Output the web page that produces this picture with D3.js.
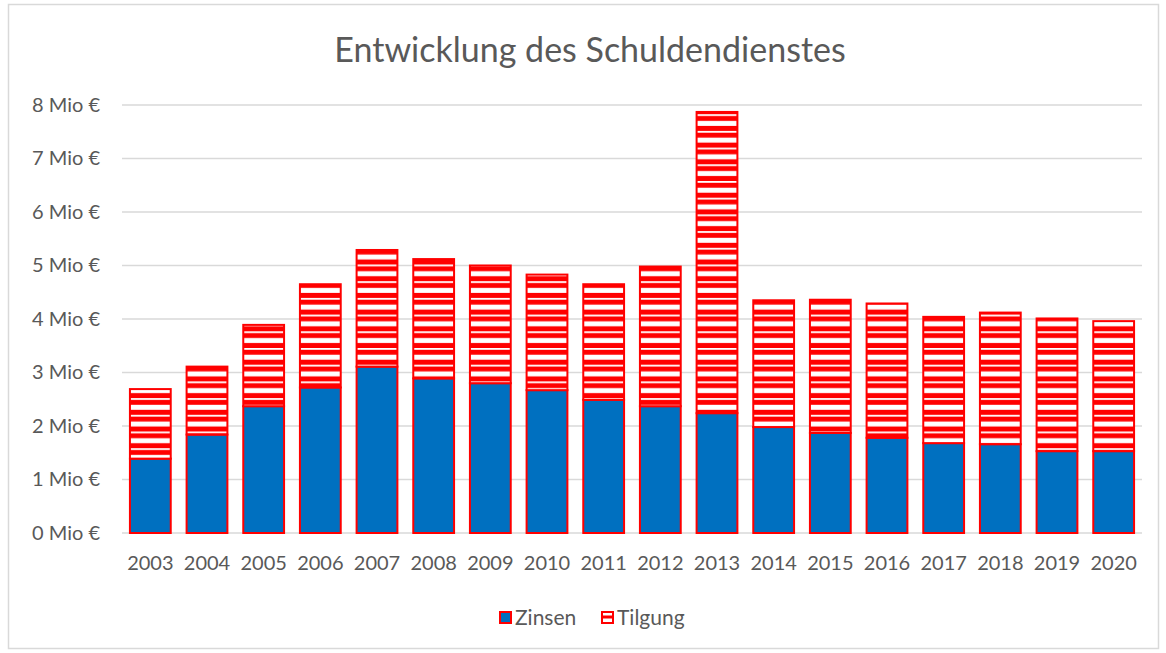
<!DOCTYPE html>
<html>
<head>
<meta charset="utf-8">
<script src="https://cdn.jsdelivr.net/npm/d3@7"></script>
<style>
    body { margin: 0; background: #fff; }
    text { font-family: Lato, "Noto Sans", sans-serif; fill: #595959; }
</style>
</head>
<body>
<div id="Graph"></div>
<script>
var years = ["2003", "2004", "2005", "2006", "2007", "2008", "2009", "2010", "2011",
    "2012", "2013", "2014", "2015", "2016", "2017", "2018", "2019", "2020"];
// values in Mio €
var zinsen = [1.39, 1.84, 2.37, 2.72, 3.11, 2.89, 2.80, 2.67, 2.49, 2.37, 2.24, 1.98, 1.87, 1.78, 1.68, 1.66, 1.53, 1.53];
var tilgung = [1.30, 1.27, 1.52, 1.93, 2.18, 2.23, 2.20, 2.16, 2.16, 2.61, 5.63, 2.37, 2.49, 2.51, 2.36, 2.46, 2.48, 2.43];
var yTicks = [0, 1, 2, 3, 4, 5, 6, 7, 8];
var seriesNames = ["Zinsen", "Tilgung"];

function render() {
    var width = 1166, height = 653;
    var margin = {top: 105, right: 24, bottom: 120, left: 122};
    var plotWidth = width - margin.left - margin.right,
        plotHeight = height - margin.top - margin.bottom;

    var svg = d3.select("#Graph").append("svg")
        .attr("id", "svgElement")
        .attr("width", width)
        .attr("height", height);

    //striped fill like the excel pattern
    var defs = svg.append("defs");
    var pattern = defs.append("pattern")
        .attr("id", "stripes")
        .attr("patternUnits", "userSpaceOnUse")
        .attr("x", 0)
        .attr("y", 393.3)
        .attr("width", 10)
        .attr("height", 16.7);
    pattern.append("rect").attr("width", 10).attr("height", 16.7).attr("fill", "#ff0000");
    pattern.append("rect").attr("y", 0).attr("width", 10).attr("height", 1.8).attr("fill", "#ffffff");
    pattern.append("rect").attr("y", 6.7).attr("width", 10).attr("height", 5).attr("fill", "#ffffff");

    //chart border
    svg.append("rect")
        .attr("x", 8.5).attr("y", 4.5)
        .attr("width", 1150).attr("height", 644)
        .attr("fill", "none")
        .attr("stroke", "#d9d9d9")
        .attr("stroke-width", 1.5);

    //title
    svg.append("text")
        .attr("x", 590)
        .attr("y", 62)
        .style("text-anchor", "middle")
        .style("font-size", "34px")
        .text("Entwicklung des Schuldendienstes");

    var g = svg.append("g")
        .attr("transform", "translate(" + margin.left + "," + margin.top + ")");

    var x = d3.scaleBand()
        .domain(years)
        .range([0, plotWidth])
        .paddingInner(0.28)
        .paddingOuter(0.14);
    var y = d3.scaleLinear()
        .domain([0, 8])
        .range([plotHeight, 0]);

    //gridlines
    g.append("g")
        .selectAll("line")
        .data(yTicks)
        .enter().append("line")
        .attr("x1", 0)
        .attr("x2", plotWidth)
        .attr("y1", function (d) { return y(d); })
        .attr("y2", function (d) { return y(d); })
        .attr("stroke", "#d9d9d9")
        .attr("stroke-width", 1.5);

    //y axis labels
    var yAxis = g.append("g")
        .call(d3.axisLeft(y).tickValues(yTicks).tickSize(0).tickPadding(22)
            .tickFormat(function (d) { return d + " Mio €"; }));
    yAxis.select(".domain").remove();
    yAxis.selectAll("text").style("font-size", "20px").attr("fill", "#595959");

    //x axis labels
    var xAxis = g.append("g")
        .attr("transform", "translate(0," + plotHeight + ")")
        .call(d3.axisBottom(x).tickSize(0).tickPadding(23));
    xAxis.select(".domain").remove();
    xAxis.selectAll("text").style("font-size", "20px").attr("fill", "#595959");

    //stack the series
    var rows = years.map(function (yr, i) {
        return {year: yr, Zinsen: zinsen[i], Tilgung: tilgung[i]};
    });
    var stacked = d3.stack().keys(seriesNames)(rows);
    var fills = {Zinsen: "#0070c0", Tilgung: "url(#stripes)"};

    var layer = g.selectAll(".layer")
        .data(stacked)
        .enter().append("g")
        .attr("class", "layer")
        .attr("fill", function (d) { return fills[d.key]; });

    layer.selectAll("rect")
        .data(function (d) { return d; })
        .enter().append("rect")
        .attr("x", function (d) { return x(d.data.year); })
        .attr("width", x.bandwidth())
        .attr("y", function (d) { return y(d[1]); })
        .attr("height", function (d) { return y(d[0]) - y(d[1]); })
        .attr("stroke", "#ff0000")
        .attr("stroke-width", 2);

    //legend
    var legend = svg.append("g")
        .attr("transform", "translate(499,611)");
    var item = legend.selectAll(".legend")
        .data(seriesNames)
        .enter().append("g")
        .attr("class", "legend")
        .attr("transform", function (d, i) { return "translate(" + (i * 102) + ",0)"; });
    item.append("rect")
        .attr("x", 1).attr("y", 1)
        .attr("width", 11).attr("height", 11)
        .attr("fill", function (d) { return d === "Zinsen" ? "#0070c0" : "#ffffff"; })
        .attr("stroke", "#ff0000")
        .attr("stroke-width", 2);
    item.filter(function (d) { return d === "Tilgung"; })
        .append("rect")
        .attr("x", 1).attr("y", 4.5)
        .attr("width", 11).attr("height", 3)
        .attr("fill", "#ff0000");
    item.append("text")
        .attr("x", 16)
        .attr("y", 14)
        .style("font-size", "21px")
        .text(function (d) { return d; });
}

render();
</script>
</body>
</html>
